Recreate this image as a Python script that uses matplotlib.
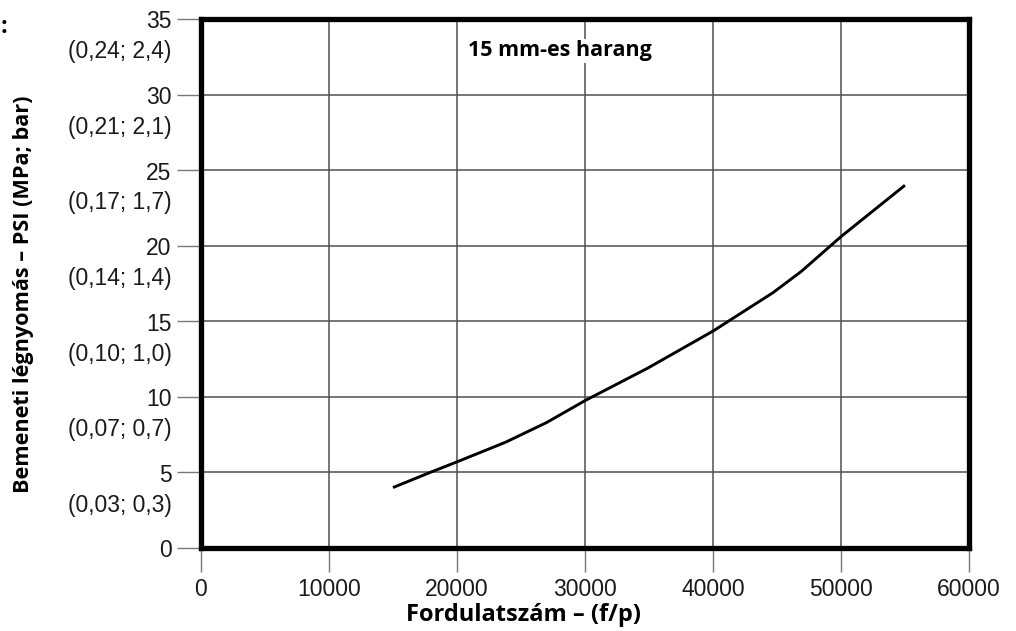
import numpy as np
import matplotlib
matplotlib.use("Agg")
import matplotlib.pyplot as plt
from matplotlib.transforms import ScaledTranslation

# curve
rpm = [15000, 17900, 20000, 23800, 27000, 30000, 34900, 40000, 44700, 46900, 50000, 55000]
psi = [4.0, 5.0, 5.7, 7.0, 8.3, 9.75, 11.9, 14.35, 16.9, 18.3, 20.6, 24.0]

x_ticks = [0, 10000, 20000, 30000, 40000, 50000, 60000]
y_ticks = [0, 5, 10, 15, 20, 25, 30, 35]
y_labels = ["0", "5\n(0,03; 0,3)", "10\n(0,07; 0,7)", "15\n(0,10; 1,0)",
            "20\n(0,14; 1,4)", "25\n(0,17; 1,7)", "30\n(0,21; 2,1)", "35\n(0,24; 2,4)"]

title = "15 mm-es harang"
xlabel = "Fordulatszám – (f/p)"
ylabel = "Bemeneti légnyomás – PSI (MPa; bar)"

fig = plt.figure(figsize=(10.16, 6.31), dpi=100)
ax = fig.add_axes([0.1978, 0.1315, 0.7559, 0.8384])

ax.plot(rpm, psi, color="black", lw=2.1, solid_capstyle="butt", zorder=3)

ax.set_xlim(0, 60000)
ax.set_ylim(0, 35)
ax.set_xticks(x_ticks)
ax.set_yticks(y_ticks)
ax.set_xticklabels([str(v) for v in x_ticks])
ax.set_yticklabels(y_labels)
ax.grid(True, color="#505050", lw=1.1, zorder=1)

ax.tick_params(axis="y", length=17, width=1.0, color="#777777", pad=4.3,
               labelsize=16.5, labelfontfamily="Liberation Sans", labelcolor="#1a1a1a")
ax.tick_params(axis="x", length=17, width=1.0, color="#777777", pad=4.5,
               labelsize=16.5, labelfontfamily="Liberation Sans", labelcolor="#1a1a1a")

shift = ScaledTranslation(0, 6.2 / 72, fig.dpi_scale_trans)
for lab in ax.get_yticklabels():
    lab.set_verticalalignment("top")
    lab.set_multialignment("right")
    lab.set_linespacing(1.385)
    lab.set_transform(lab.get_transform() + shift)

for s in ax.spines.values():
    s.set_linewidth(3.8)
    s.set_color("black")
    s.set_zorder(4)

ax.text(0.3477, 0.94, title, transform=ax.transAxes, fontsize=15.5, fontweight="bold",
        family="Open Sans", va="center", ha="left",
        bbox=dict(facecolor="white", edgecolor="none", pad=1))

ax.set_xlabel(xlabel, fontsize=17, fontweight="bold", family="Open Sans")
ax.xaxis.set_label_coords(0.4206, -0.127)
ax.xaxis.label.set_verticalalignment("center")
ax.set_ylabel(ylabel, fontsize=15.6, fontweight="bold", family="Open Sans")
ax.yaxis.set_label_coords(-0.2305, 0.48)
ax.yaxis.label.set_verticalalignment("center")

fig.text(0.001, 0.958, ":", fontsize=17, fontweight="bold", family="Open Sans", va="center")

fig.savefig("out.png", dpi=100)
